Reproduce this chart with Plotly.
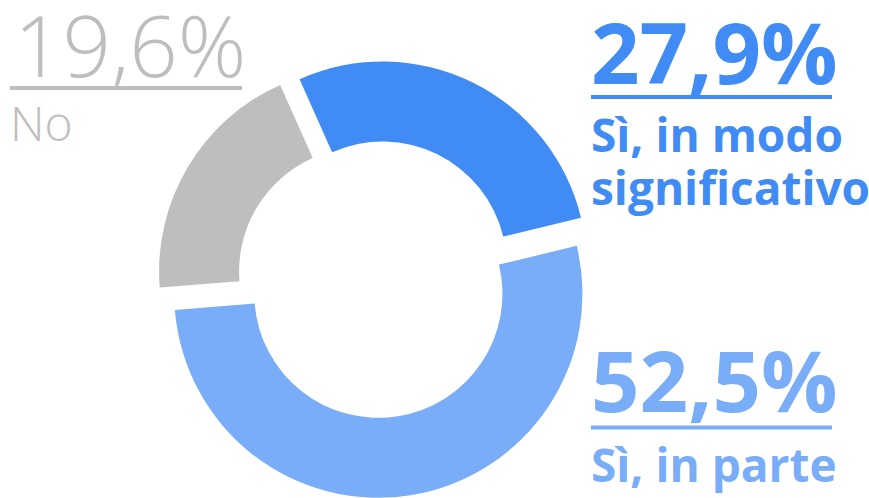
import plotly.graph_objects as go

# data
labels = ["Sì, in modo significativo", "Sì, in parte", "No"]
values = [27.9, 52.5, 19.6]
value_texts = ["27,9%", "52,5%", "19,6%"]
colors = ["#418CF4", "#7AADF8", "#BEBEBE"]

W, H = 869, 498

# donut centre in px, and the pie domain half-size (radius incl. pull)
cx, cy, rad = 376, 279, 219

fig = go.Figure(go.Pie(
    labels=labels,
    values=values,
    marker=dict(colors=colors, line=dict(width=0)),
    hole=0.608,
    pull=0.073,
    sort=False,
    direction="clockwise",
    rotation=-24,
    textinfo="none",
    hoverinfo="label+percent",
    domain=dict(x=[(cx - rad) / W, (cx + rad) / W],
                y=[max(0, (H - cy - rad) / H), min(1, (H - cy + rad) / H)]),
))

FONT = "Open Sans"


def add_label(text, x, baseline, size, color, weight=700):
    # x / baseline in px; middle of text box is ~0.4*size above baseline
    mid = baseline - 0.40 * size
    fig.add_annotation(
        text=text, x=x / W, y=1 - mid / H, xref="paper", yref="paper",
        xanchor="left", yanchor="middle", showarrow=False,
        font=dict(family=FONT, size=size, color=color, weight=weight),
    )


def underline(x0, x1, y, color):
    y = 1 - y / H
    fig.add_shape(type="line", xref="paper", yref="paper",
                  x0=x0 / W, x1=x1 / W, y0=y, y1=y,
                  line=dict(color=color, width=4))


add_label(value_texts[2], 12, 78, 85, colors[2], weight=300)
underline(10, 242, 88, colors[2])
add_label(labels[2], 8, 142, 48, colors[2], weight=300)

add_label(value_texts[0], 589, 85, 85, colors[0])
underline(591, 832, 97, colors[0])
add_label("Sì, in modo", 589, 152, 46, colors[0])
add_label("significativo", 589, 205, 46, colors[0])

add_label(value_texts[1], 589, 413, 85, colors[1])
underline(591, 832, 427.5, colors[1])
add_label("Sì, in parte", 589, 482, 46, colors[1])

fig.update_layout(
    width=W, height=H,
    margin=dict(l=0, r=0, t=0, b=0),
    showlegend=False,
    paper_bgcolor="white",
    plot_bgcolor="white",
)

# drop the default body margin so the figure fills the window exactly
fig.write_html("out.html", config={"displayModeBar": False},
               post_script="document.body.style.margin = '0';")
